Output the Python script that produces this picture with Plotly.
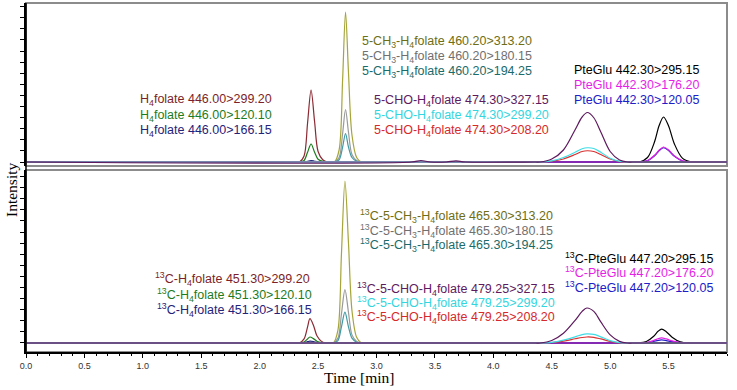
import plotly.graph_objects as go

# ---------------- data ----------------
x_range = [0.0, 6.0]
x_ticks = [0.0, 0.5, 1.0, 1.5, 2.0, 2.5, 3.0, 3.5, 4.0, 4.5, 5.0, 5.5]

# --- top panel (unlabelled) ---
t_h4_top = [0.0, 2.30, 2.34, 2.38, 2.41, 2.44, 2.47, 2.50, 2.54, 2.58, 2.62, 6.0]
h4_299_top = [0, 0, 0, 4, 26, 48, 27, 7, 1.5, 0, 0, 0]
h4_120_top = [0, 0, 0, 1, 6.5, 12, 6.5, 1.8, 0.4, 0, 0, 0]
h4_166_top = [0, 0, 0, 0, 0.5, 1.0, 0.5, 0.1, 0, 0, 0, 0]

t_ch3_top = [0.0, 2.60, 2.64, 2.68, 2.71, 2.735, 2.76, 2.79, 2.83, 2.87, 2.91, 6.0]
ch3_313_top = [0, 0, 0, 8, 55, 100, 60, 18, 3, 0, 0, 0]
ch3_180_top = [0, 0, 0, 3, 19, 35, 20, 5, 1, 0, 0, 0]
ch3_194_top = [0, 0, 0, 1.5, 10, 19, 10, 3, 0.5, 0, 0, 0]

t_cho_top = [0.0, 3.30, 3.38, 3.46, 3.60, 3.68, 3.76, 4.36, 4.40, 4.50, 4.60, 4.70, 4.76, 4.805, 4.86, 4.92, 5.00, 5.08, 5.15, 5.19, 6.0]
cho_327_top = [0, 0, 1.0, 0, 0, 0.7, 0, 0, 0, 2, 8, 21.5, 30, 33, 29.5, 20, 7, 1.3, 0, 0, 0]
cho_299_top = [0, 0, 0, 0, 0, 0, 0, 0, 0, 0.8, 3, 6.5, 8.8, 9.5, 9, 6.5, 2.5, 0.4, 0, 0, 0]
cho_208_top = [0, 0, 0, 0, 0, 0, 0, 0, 0, 0.5, 2, 5, 7, 7.5, 7, 5, 2, 0.3, 0, 0, 0]

t_pte_top = [0.0, 5.21, 5.25, 5.32, 5.38, 5.42, 5.457, 5.50, 5.55, 5.62, 5.70, 5.74, 6.0]
pte_295_top = [0, 0, 0, 3, 13.5, 24.5, 30, 24, 12, 2.4, 0, 0, 0]
pte_176_top = [0, 0, 0, 1, 4.5, 8, 10, 8, 4, 0.8, 0, 0, 0]
pte_120_top = [0, 0, 0, 0.9, 4.2, 7.6, 9.5, 7.6, 3.8, 0.7, 0, 0, 0]

# --- bottom panel (13C labelled) ---
t_h4_bot = [0.0, 2.30, 2.34, 2.38, 2.41, 2.43, 2.46, 2.49, 2.53, 2.57, 2.61, 6.0]
h4_299_bot = [0, 0, 0, 2.5, 10, 15, 11, 4.5, 1, 0, 0, 0]
h4_120_bot = [0, 0, 0, 0.6, 2.5, 3.7, 2.7, 1.1, 0.2, 0, 0, 0]
h4_166_bot = [0, 0, 0, 0.2, 0.8, 1.2, 0.9, 0.3, 0, 0, 0, 0]

t_ch3_bot = [0.0, 2.59, 2.63, 2.67, 2.70, 2.73, 2.76, 2.79, 2.83, 2.87, 2.91, 6.0]
ch3_313_bot = [0, 0, 0, 8, 55, 100, 62, 20, 3.5, 0, 0, 0]
ch3_180_bot = [0, 0, 0, 3, 18, 33, 19, 5, 1, 0, 0, 0]
ch3_194_bot = [0, 0, 0, 1.5, 10, 19, 10, 3, 0.5, 0, 0, 0]

t_cho_bot = [0.0, 4.36, 4.40, 4.50, 4.60, 4.70, 4.76, 4.80, 4.86, 4.92, 5.00, 5.08, 5.15, 5.19, 6.0]
cho_327_bot = [0, 0, 0, 1.5, 6, 14, 19.5, 21.6, 19.5, 13, 5, 1, 0, 0, 0]
cho_299_bot = [0, 0, 0, 0.4, 1.8, 3.8, 5.2, 5.6, 5.3, 3.8, 1.5, 0.2, 0, 0, 0]
cho_208_bot = [0, 0, 0, 0.3, 1.2, 2.6, 3.4, 3.7, 3.5, 2.5, 1, 0.1, 0, 0, 0]

t_pte_bot = [0.0, 5.20, 5.24, 5.31, 5.37, 5.41, 5.44, 5.48, 5.53, 5.60, 5.68, 5.72, 6.0]
pte_295_bot = [0, 0, 0, 0.9, 4, 7.2, 8.6, 7, 3.6, 0.7, 0, 0, 0]
pte_176_bot = [0, 0, 0, 0.3, 1.5, 2.6, 3.1, 2.5, 1.3, 0.3, 0, 0, 0]
pte_120_bot = [0, 0, 0, 0.2, 0.9, 1.6, 1.9, 1.5, 0.8, 0.2, 0, 0, 0]

# ---------------- styling ----------------
C = {
    "h4_299": "#8b2a33", "h4_120": "#1e7b1e", "h4_166": "#1f237a",
    "ch3_313": "#a5a53a", "ch3_180": "#9a9a9a", "ch3_194": "#3f9aa3",
    "cho_327": "#5e1a5e", "cho_299": "#3fdde6", "cho_208": "#d83232",
    "pte_295": "#000000", "pte_176": "#e020e0", "pte_120": "#2020c8",
}
T = {
    "h4_299": "#7d1f2a", "h4_120": "#1e7b1e", "h4_166": "#1f237a",
    "ch3_313": "#6e6e14", "ch3_180": "#707070", "ch3_194": "#1a6b6b",
    "cho_327": "#5e1a5e", "cho_299": "#33d6e0", "cho_208": "#d62a2a",
    "pte_295": "#000000", "pte_176": "#e61ee6", "pte_120": "#2020c8",
}

fig = go.Figure()

def add(xs, ys, key, axis):
    fig.add_trace(go.Scatter(
        x=xs, y=ys, mode="lines", line=dict(color=C[key], width=1.2, shape="spline", smoothing=0.9),
        xaxis="x2" if axis == "top" else "x", yaxis="y2" if axis == "top" else "y",
        showlegend=False, hoverinfo="skip"))

# top panel
add(t_h4_top, h4_299_top, "h4_299", "top")
add(t_h4_top, h4_120_top, "h4_120", "top")
add(t_h4_top, h4_166_top, "h4_166", "top")
add(t_ch3_top, ch3_313_top, "ch3_313", "top")
add(t_ch3_top, ch3_180_top, "ch3_180", "top")
add(t_ch3_top, ch3_194_top, "ch3_194", "top")
add(t_pte_top, pte_295_top, "pte_295", "top")
add(t_pte_top, pte_120_top, "pte_120", "top")
add(t_pte_top, pte_176_top, "pte_176", "top")
add(t_cho_top, cho_208_top, "cho_208", "top")
add(t_cho_top, cho_299_top, "cho_299", "top")
add(t_cho_top, cho_327_top, "cho_327", "top")

# bottom panel
add(t_h4_bot, h4_299_bot, "h4_299", "bot")
add(t_h4_bot, h4_120_bot, "h4_120", "bot")
add(t_h4_bot, h4_166_bot, "h4_166", "bot")
add(t_ch3_bot, ch3_313_bot, "ch3_313", "bot")
add(t_ch3_bot, ch3_180_bot, "ch3_180", "bot")
add(t_ch3_bot, ch3_194_bot, "ch3_194", "bot")
add(t_pte_bot, pte_295_bot, "pte_295", "bot")
add(t_pte_bot, pte_120_bot, "pte_120", "bot")
add(t_pte_bot, pte_176_bot, "pte_176", "bot")
add(t_cho_bot, cho_208_bot, "cho_208", "bot")
add(t_cho_bot, cho_299_bot, "cho_299", "bot")
add(t_cho_bot, cho_327_bot, "cho_327", "bot")

# ---------------- layout ----------------
W, H = 737, 390
ML, MR, MT, MB = 26, 10, 3, 38
PW, PH = W - ML - MR, H - MT - MB

def px(x):
    return (x - ML) / PW

def py(y):
    return (H - MB - y) / PH

top_dom = [py(166), 1.0]
bot_dom = [0.0, py(170)]

ann = []
def label(text, x, y, key):
    ann.append(dict(text=text, x=px(x), y=py(y), xref="paper", yref="paper",
                    xanchor="left", yanchor="middle", showarrow=False,
                    font=dict(family="Liberation Sans, Arial, sans-serif", size=12.5, color=T[key])))

S4 = "H<sub>4</sub>folate"
CH3 = "5-CH<sub>3</sub>-" + S4
CHO = "5-CHO-" + S4
C13 = "<sup>13</sup>C-"

label(S4 + " 446.00>299.20", 138, 100, "h4_299")
label(S4 + " 446.00>120.10", 138, 116, "h4_120")
label(S4 + " 446.00>166.15", 138, 131, "h4_166")
label(CH3 + " 460.20>313.20", 360, 42, "ch3_313")
label(CH3 + " 460.20>180.15", 360, 57, "ch3_180")
label(CH3 + " 460.20>194.25", 360, 72, "ch3_194")
label(CHO + " 474.30>327.15", 372, 101, "cho_327")
label(CHO + " 474.30>299.20", 372, 116, "cho_299")
label(CHO + " 474.30>208.20", 372, 131, "cho_208")
label("PteGlu 442.30>295.15", 572, 70, "pte_295")
label("PteGlu 442.30>176.20", 572, 85, "pte_176")
label("PteGlu 442.30>120.05", 572, 100, "pte_120")

label(C13 + S4 + " 451.30>299.20", 153, 279, "h4_299")
label(C13 + S4 + " 451.30>120.10", 155, 295, "h4_120")
label(C13 + S4 + " 451.30>166.15", 155, 310, "h4_166")
label(C13 + CH3 + " 465.30>313.20", 358, 216, "ch3_313")
label(C13 + CH3 + " 465.30>180.15", 358, 231, "ch3_180")
label(C13 + CH3 + " 465.30>194.25", 358, 245, "ch3_194")
label(C13 + CHO + " 479.25>327.15", 355, 289, "cho_327")
label(C13 + CHO + " 479.25>299.20", 355, 303, "cho_299")
label(C13 + CHO + " 479.25>208.20", 355, 317, "cho_208")
label(C13 + "PteGlu 447.20>295.15", 563, 258, "pte_295")
label(C13 + "PteGlu 447.20>176.20", 563, 272, "pte_176")
label(C13 + "PteGlu 447.20>120.05", 563, 287, "pte_120")

serif = "Liberation Serif, Times New Roman, serif"
ann.append(dict(text="Intensity", x=px(11), y=py(190), xref="paper", yref="paper",
                textangle=-90, showarrow=False, xanchor="center", yanchor="middle",
                font=dict(family=serif, size=15.5, color="#000")))
ann.append(dict(text="Time [min]", x=px(359), y=py(377), xref="paper", yref="paper",
                showarrow=False, xanchor="center", yanchor="middle",
                font=dict(family=serif, size=15.5, color="#000")))

frame = "#8c8c8c"
shapes = [
    dict(type="rect", xref="paper", yref="paper", x0=0, x1=1, y0=top_dom[0], y1=1,
         line=dict(color=frame, width=2), layer="below"),
    dict(type="rect", xref="paper", yref="paper", x0=0, x1=1, y0=0, y1=bot_dom[1],
         line=dict(color=frame, width=2), layer="below"),
    dict(type="line", xref="paper", yref="paper", x0=0, x1=0, y0=0, y1=1,
         line=dict(color="#000", width=1.5), layer="above"),
]

yaxis_common = dict(showgrid=False, zeroline=False, showticklabels=False,
                    ticks="outside", ticklen=4, tickcolor="#000", tickwidth=1,
                    showline=True, linecolor="#000", linewidth=1.5)

fig.update_layout(
    width=W, height=H,
    margin=dict(l=ML, r=MR, t=MT, b=MB),
    paper_bgcolor="white", plot_bgcolor="white",
    showlegend=False,
    annotations=ann, shapes=shapes,
    xaxis=dict(domain=[0, 1], anchor="y", range=x_range, tickvals=x_ticks,
               ticktext=[f"{v:.1f}" for v in x_ticks],
               ticks="outside", ticklen=4, tickcolor="#000", tickwidth=1,
               minor=dict(dtick=0.1, ticks="outside", ticklen=2, tickcolor="#000"),
               showline=True, linecolor="#000", linewidth=1.5,
               showgrid=False, zeroline=False,
               tickfont=dict(family="Liberation Sans, Arial, sans-serif", size=9, color="#333")),
    xaxis2=dict(domain=[0, 1], anchor="y2", range=x_range, matches="x",
                showticklabels=False, ticks="", showgrid=False, zeroline=False, showline=False),
    yaxis=dict(domain=bot_dom, anchor="x", range=[-5.56, 106.8], tick0=0, dtick=6.85, **yaxis_common),
    yaxis2=dict(domain=top_dom, anchor="x2", range=[-2.67, 106.0], tick0=0, dtick=7.4, **yaxis_common),
)

fig.write_html("out.html", config={"displayModeBar": False},
               post_script="document.body.style.margin='0';document.body.style.overflow='hidden';")
